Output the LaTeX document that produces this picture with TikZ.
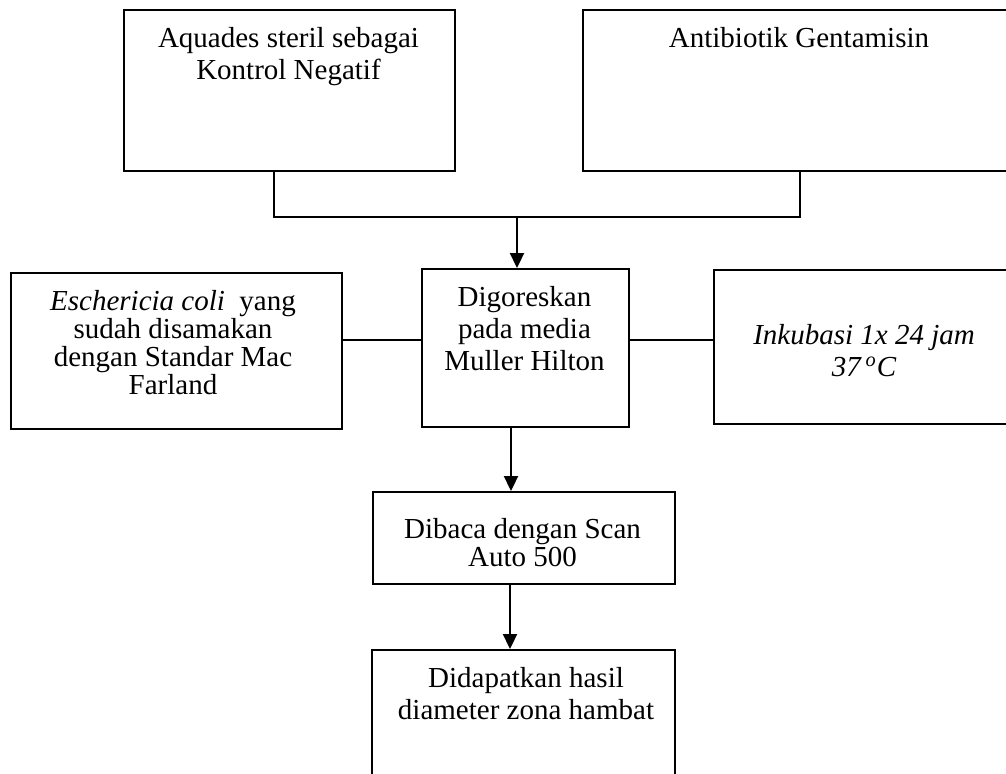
\documentclass[tikz,border=0pt]{standalone}
\usepackage{fontspec}
\setmainfont{Liberation Serif}
\usetikzlibrary{arrows.meta}
\begin{document}
\begin{tikzpicture}[x=1pt,y=1pt,
  box/.style={draw, line width=1.1pt, inner sep=0pt, anchor=north west},
  txt/.style={anchor=north, align=center, inner sep=0pt, font=\fontsize{14.5}{16}\selectfont},
  txtt/.style={txt, font=\fontsize{14.5}{14}\selectfont},
  line/.style={line width=1.1pt},
  arr/.style={line width=1.1pt, -{Triangle[length=7.5pt,width=7pt]}}
]
\useasboundingbox (0,0) rectangle (503,-386.5);
\clip (0,0) rectangle (503,-386.5);
% boxes
\node[box, minimum width=165.5pt, minimum height=80.5pt] (A) at (61.5,-4.5) {};
\node[box, minimum width=217pt, minimum height=80.5pt] (B) at (291,-4.5) {};
\node[box, minimum width=103.5pt, minimum height=79pt] (M) at (210.5,-134) {};
\node[box, minimum width=165.5pt, minimum height=78pt] (L) at (5,-136) {};
\node[box, minimum width=151pt, minimum height=77pt] (R) at (356.5,-134.5) {};
\node[box, minimum width=151pt, minimum height=46pt] (D) at (186,-245.5) {};
\node[box, minimum width=151.5pt, minimum height=80pt] (E) at (185.5,-324.5) {};
% texts
\node[txt] (tA) at (144.25,-13.5) {Aquades steril sebagai\\Kontrol Negatif};
\node[txt] (tB) at (399.5,-13.5) {Antibiotik Gentamisin};
\node[txt] (tM) at (262.25,-143) {Digoreskan\\pada media\\Muller Hilton};
\node[txtt] (tL) at (86.5,-145) {\textit{Eschericia coli}~ yang\\sudah disamakan\\dengan Standar Mac\\Farland};
\node[txt] (tR) at (432,-162) {\itshape Inkubasi 1x 24 jam\\\itshape 37\,\textsuperscript{o}C};
\node[txtt] (tD) at (261.25,-259) {Dibaca dengan Scan\\Auto 500};
\node[txt] (tE) at (263,-333.5) {Didapatkan hasil\\diameter zona hambat};
% connector coordinates
\coordinate (jl) at (137,-108.5);
\coordinate (jr) at (400,-108.5);
\coordinate (jm) at (258.5,-108.5);
\coordinate (hl) at (0,-170);
\coordinate (a1) at (255.5,0);
\coordinate (a2) at (255,0);
% connectors
\draw[line] (A.south -| jl) -- (jl) -- (jr) -- (B.south -| jr);
\draw[arr] (jm) -- (M.north -| jm);
\draw[line] (L.east |- hl) -- (M.west |- hl);
\draw[line] (M.east |- hl) -- (R.west |- hl);
\draw[arr] (M.south -| a1) -- (D.north -| a1);
\draw[arr] (D.south -| a2) -- (E.north -| a2);
\end{tikzpicture}
\end{document}
